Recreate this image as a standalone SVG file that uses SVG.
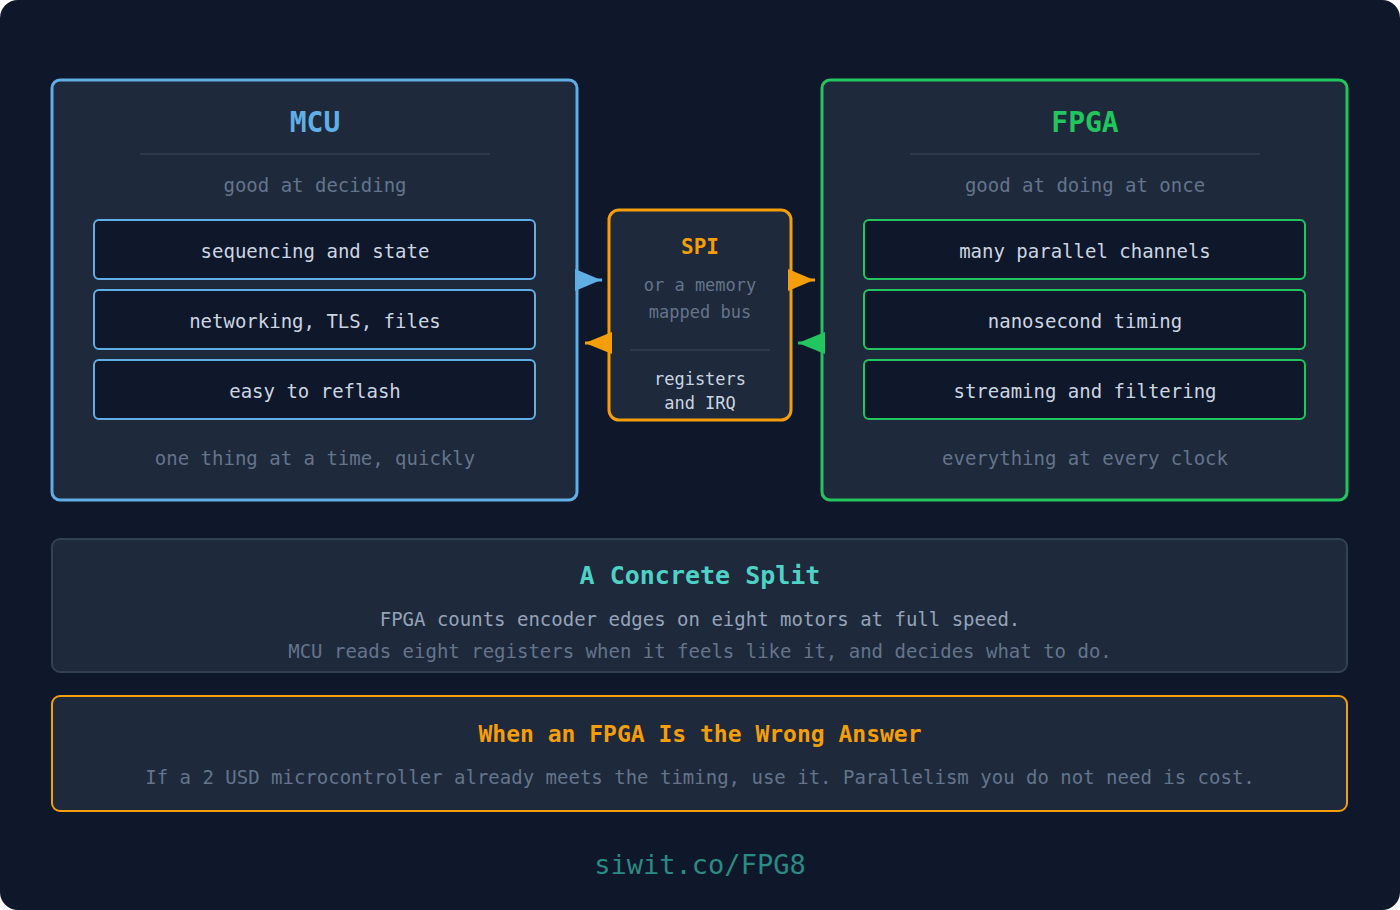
<svg xmlns="http://www.w3.org/2000/svg" width="1400" height="910" viewBox="0 0 1400 910">
<style>
text{font-family:"DejaVu Sans Mono",monospace;text-anchor:middle}
.card{fill:#1e293b;stroke-width:3}
.item{fill:#0f172a;stroke-width:2}
.it{font-size:19px;fill:#cbd5e1}
.sub{font-size:19px;fill:#64748b}
.sep{stroke:#334155;stroke-width:1.5}
</style>
<rect x="0" y="0" width="1400" height="910" rx="18" fill="#0f172a"/>
<g id="mcu">
<rect class="card" x="52" y="80" width="525" height="420" rx="8" stroke="#60aee6"/>
<text x="315" y="132" font-size="28" font-weight="bold" fill="#60aee6">MCU</text>
<line class="sep" x1="140" y1="154" x2="490" y2="154"/>
<text class="sub" x="315" y="192">good at deciding</text>
<rect class="item" x="94" y="220" width="441" height="59" rx="5" stroke="#60aee6"/>
<text class="it" x="315" y="258">sequencing and state</text>
<rect class="item" x="94" y="290" width="441" height="59" rx="5" stroke="#60aee6"/>
<text class="it" x="315" y="328">networking, TLS, files</text>
<rect class="item" x="94" y="360" width="441" height="59" rx="5" stroke="#60aee6"/>
<text class="it" x="315" y="398">easy to reflash</text>
<text class="sub" x="315" y="465">one thing at a time, quickly</text>
</g>
<g id="fpga">
<rect class="card" x="822" y="80" width="525" height="420" rx="8" stroke="#22c55e"/>
<text x="1085" y="132" font-size="28" font-weight="bold" fill="#22c55e">FPGA</text>
<line class="sep" x1="910" y1="154" x2="1260" y2="154"/>
<text class="sub" x="1085" y="192">good at doing at once</text>
<rect class="item" x="864" y="220" width="441" height="59" rx="5" stroke="#22c55e"/>
<text class="it" x="1085" y="258">many parallel channels</text>
<rect class="item" x="864" y="290" width="441" height="59" rx="5" stroke="#22c55e"/>
<text class="it" x="1085" y="328">nanosecond timing</text>
<rect class="item" x="864" y="360" width="441" height="59" rx="5" stroke="#22c55e"/>
<text class="it" x="1085" y="398">streaming and filtering</text>
<text class="sub" x="1085" y="465">everything at every clock</text>
</g>
<g id="spi">
<rect class="card" x="609" y="210" width="182" height="210" rx="10" stroke="#f59e0b"/>
<text x="700" y="254" font-size="21" font-weight="bold" fill="#f59e0b">SPI</text>
<text x="700" y="291" font-size="17" fill="#64748b">or a memory</text>
<text x="700" y="318" font-size="17" fill="#64748b">mapped bus</text>
<line class="sep" x1="630" y1="350" x2="770" y2="350"/>
<text x="700" y="385" font-size="17" fill="#cbd5e1">registers</text>
<text x="700" y="409" font-size="17" fill="#cbd5e1">and IRQ</text>
</g>
<g id="connectors">
<line x1="578" y1="280" x2="602" y2="280" stroke="#60aee6" stroke-width="3"/>
<polygon points="575,269 575,291 601,280" fill="#60aee6"/>
<line x1="791" y1="280" x2="815" y2="280" stroke="#f59e0b" stroke-width="3"/>
<polygon points="788,269 788,291 814,280" fill="#f59e0b"/>
<line x1="585" y1="343" x2="609" y2="343" stroke="#f59e0b" stroke-width="3"/>
<polygon points="612,332 612,354 585,343" fill="#f59e0b"/>
<line x1="798" y1="343" x2="822" y2="343" stroke="#22c55e" stroke-width="3"/>
<polygon points="825,332 825,354 798,343" fill="#22c55e"/>
</g>
<g id="split">
<rect x="52" y="539" width="1295" height="133" rx="8" fill="#1e293b" stroke="#334155" stroke-width="2"/>
<text x="700" y="584" font-size="25" font-weight="bold" fill="#4fd1c5">A Concrete Split</text>
<text x="700" y="626" font-size="19" fill="#94a3b8">FPGA counts encoder edges on eight motors at full speed.</text>
<text x="700" y="658" font-size="19" fill="#64748b">MCU reads eight registers when it feels like it, and decides what to do.</text>
</g>
<g id="wrong">
<rect x="52" y="696" width="1295" height="115" rx="8" fill="#1e293b" stroke="#f59e0b" stroke-width="2"/>
<text x="700" y="742" font-size="23" font-weight="bold" fill="#f59e0b">When an FPGA Is the Wrong Answer</text>
<text x="700" y="784" font-size="19" fill="#64748b">If a 2 USD microcontroller already meets the timing, use it. Parallelism you do not need is cost.</text>
</g>
<text x="700" y="874" font-size="27" fill="#2c8a85">siwit.co/FPG8</text>
</svg>
